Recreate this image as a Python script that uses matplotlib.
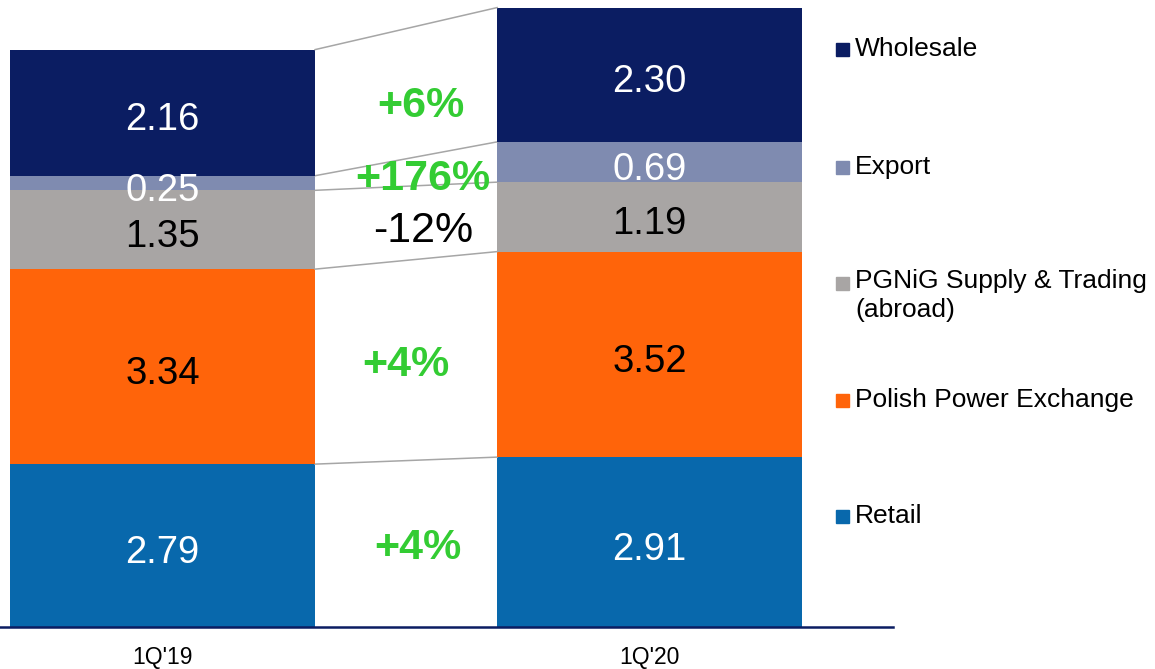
import matplotlib
matplotlib.use('Agg')
import matplotlib.pyplot as plt
from matplotlib.patches import Rectangle
import numpy as np

plt.rcParams['font.family'] = ['Liberation Sans', 'DejaVu Sans']

# Data
periods = ["1Q'19", "1Q'20"]
segments = ["Retail", "Polish Power Exchange", "PGNiG Supply & Trading\n(abroad)",
            "Export", "Wholesale"]
q1_19 = [2.79, 3.34, 1.35, 0.25, 2.16]
q1_20 = [2.91, 3.52, 1.19, 0.69, 2.30]
changes = ["+4%", "+4%", "-12%", "+176%", "+6%"]

colors = ['#0868AC', '#FF640A', '#A8A5A4', '#7F8BB0', '#0B1D62']
label_colors = ['white', 'black', 'black', 'white', 'white']
change_colors = ['#33CC33', '#33CC33', 'black', '#33CC33', '#33CC33']
change_bold = [True, True, False, True, True]
# small nudges for the change labels (x in bar units, y in data units)
change_dx = [0.525, 0.5, 0.535, 0.535, 0.53]
change_dy = [0.0, 0.0, -0.05, -0.03, -0.14]

fig = plt.figure(figsize=(11.55, 6.69), dpi=100)
ax = fig.add_axes([0, 42 / 669, 893 / 1155, 627 / 669])

x = np.arange(len(periods))
width = 0.626
data = np.array([q1_19, q1_20])
bottoms = np.zeros(2)

for k in range(len(segments)):
    vals = data[:, k]
    ax.bar(x, vals, width, bottom=bottoms, color=colors[k], linewidth=0)
    for i in range(2):
        ax.text(x[i], bottoms[i] + vals[i] / 2 - 0.06, f"{vals[i]:.2f}",
                ha='center', va='center_baseline', fontsize=27.5,
                color=label_colors[k])
    # percentage change between the bars
    mid = ((bottoms[0] + vals[0] / 2) + (bottoms[1] + vals[1] / 2)) / 2
    ax.text(change_dx[k], mid + change_dy[k], changes[k], ha='center',
            va='center_baseline', fontsize=31, color=change_colors[k],
            fontweight='bold' if change_bold[k] else 'normal')
    bottoms = bottoms + vals
    # connector line between segment tops
    ax.plot([x[0] + width / 2, x[1] - width / 2], [bottoms[0], bottoms[1]],
            color='#A6A6A6', linewidth=1.1, zorder=1)

ax.set_xlim(-0.334, 1.5)
ax.set_ylim(0, 10.74)
ax.set_xticks(x)
ax.set_xticklabels(periods, fontsize=16.5)
ax.tick_params(axis='x', length=0, pad=14)
ax.set_yticks([])
for s in ['left', 'right', 'top']:
    ax.spines[s].set_visible(False)
ax.spines['bottom'].set_color('#0B1D62')
ax.spines['bottom'].set_linewidth(1.8)

# Legend drawn by hand
legend_y = [516, 400, 283, 167, 49]
for k in range(len(segments)):
    yc = 1 - legend_y[k] / 669
    fig.add_artist(Rectangle((836 / 1155, yc - 7 / 669), 13 / 1155, 13 / 669,
                             transform=fig.transFigure, color=colors[k]))
    if '\n' in segments[k]:
        fig.text(855 / 1155, yc + 14 / 669, segments[k], fontsize=19,
                 ha='left', va='top', linespacing=1.25)
    else:
        fig.text(855 / 1155, yc, segments[k], fontsize=19, ha='left',
                 va='center')

fig.savefig('out.png', dpi=100)
